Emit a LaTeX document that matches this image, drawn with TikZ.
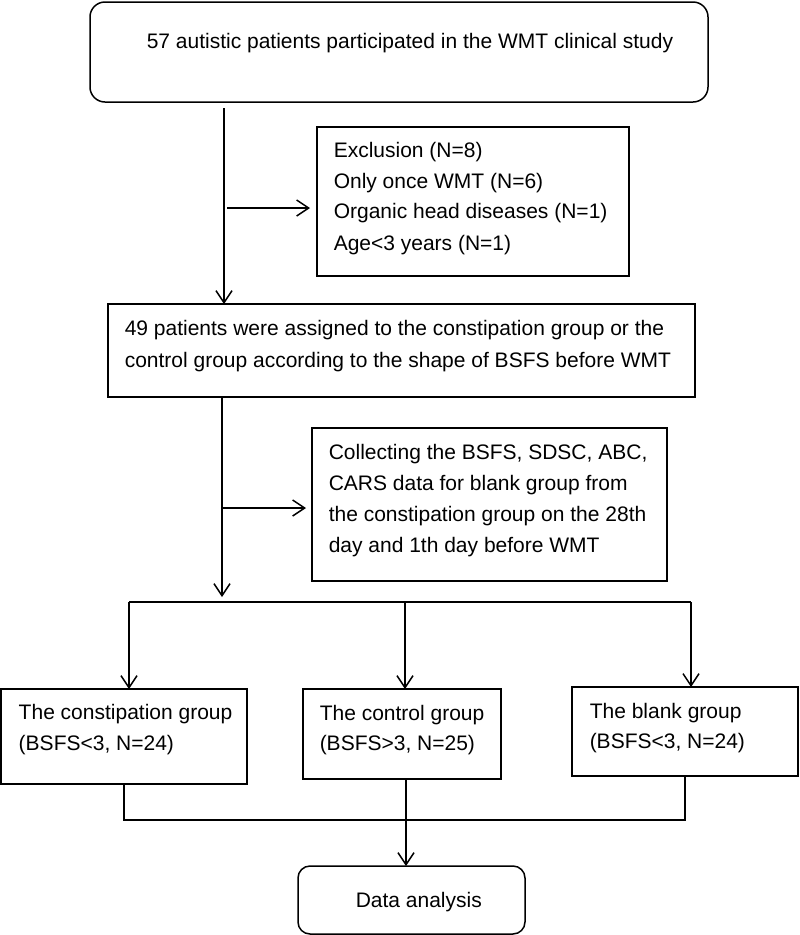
\documentclass[tikz,border=0pt]{standalone}
\usepackage{fontspec}
\setmainfont{Liberation Sans}
\usetikzlibrary{arrows.meta}
\begin{document}
\begin{tikzpicture}[x=1pt,y=-1pt,line width=1.5pt,
  box/.style={draw,rectangle,inner sep=0pt,outer sep=0pt},
  rbox/.style={box,rounded corners=15pt},
  txt/.style={anchor=west,inner sep=0pt,font=\fontsize{21}{25}\selectfont,text height=15pt,text depth=4pt},
  arr/.style={-{Straight Barb[length=12pt,width=16pt]}},
  ln/.style={-}]
\useasboundingbox (0,0) rectangle (800,935);
% boxes
\node[rbox,minimum width=618pt,minimum height=100pt] (top) at (399,52) {};
\node[box,minimum width=312pt,minimum height=149pt] (excl) at (473,201.5) {};
\node[box,minimum width=587pt,minimum height=93pt] (assign) at (401.5,350.5) {};
\node[box,minimum width=355pt,minimum height=153pt] (collect) at (489.5,504.5) {};
\node[box,minimum width=246pt,minimum height=95pt] (left) at (124,736.5) {};
\node[box,minimum width=198pt,minimum height=90pt] (mid) at (402,734) {};
\node[box,minimum width=226pt,minimum height=89pt] (right) at (685,731.5) {};
\node[rbox,rounded corners=12pt,minimum width=227pt,minimum height=68pt] (data) at (411.5,900) {};
% texts
\node[txt] (t0) at (146,43) {57 autistic patients participated in the WMT clinical study};
\node[txt] (e1) at (333,152) {Exclusion (N=8)};
\node[txt] (e2) at (333,183) {Only once WMT (N=6)};
\node[txt] (e3) at (333,213) {Organic head diseases (N=1)};
\node[txt] (e4) at (333,245) {Age<3 years (N=1)};
\node[txt] (a1) at (124,330) {49 patients were assigned to the constipation group or the};
\node[txt] (a2) at (124,362) {control group according to the shape of BSFS before WMT};
\node[txt] (c1) at (328,454) {Collecting the BSFS, SDSC, ABC,};
\node[txt] (c2) at (328,485) {CARS data for blank group from};
\node[txt] (c3) at (328,516) {the constipation group on the 28th};
\node[txt] (c4) at (328,547) {day and 1th day before WMT};
\node[txt] (l1) at (18,714) {The constipation group};
\node[txt] (l2) at (18,745) {(BSFS<3, N=24)};
\node[txt] (m1) at (319,715) {The control group};
\node[txt] (m2) at (319,745) {(BSFS>3, N=25)};
\node[txt] (r1) at (589,713) {The blank group};
\node[txt] (r2) at (589,743) {(BSFS<3, N=24)};
\node[txt] (d1) at (355,902) {Data analysis};
% connectors
\coordinate (p1) at (224,108);
\draw[arr] (p1) -- (p1 |- assign.north);
\coordinate (s1) at (227,208);
\coordinate (s1e) at (310,208);
\draw[arr] (s1) -- (s1e);
\coordinate (p2) at (222,397);
\coordinate (p2e) at (222,597);
\draw[arr] (p2) -- (p2e);
\coordinate (s2) at (222,508);
\coordinate (s2e) at (306,508);
\draw[arr] (s2) -- (s2e);
\coordinate (hL) at (129,602);
\coordinate (hM) at (405,602);
\coordinate (hR) at (691,602);
\draw[ln] (hL) -- (hR);
\draw[arr] (hL) -- (hL |- left.north);
\draw[arr] (hM) -- (hM |- mid.north);
\draw[arr] (hR) -- (hR |- right.north);
\coordinate (bL) at (124,820);
\coordinate (bR) at (685,820);
\draw[ln] (bL |- left.south) -- (bL) -- (bR) -- (bR |- right.south);
\coordinate (bM) at (406,779);
\draw[arr] (bM) -- (bM |- data.north);
\end{tikzpicture}
\end{document}
